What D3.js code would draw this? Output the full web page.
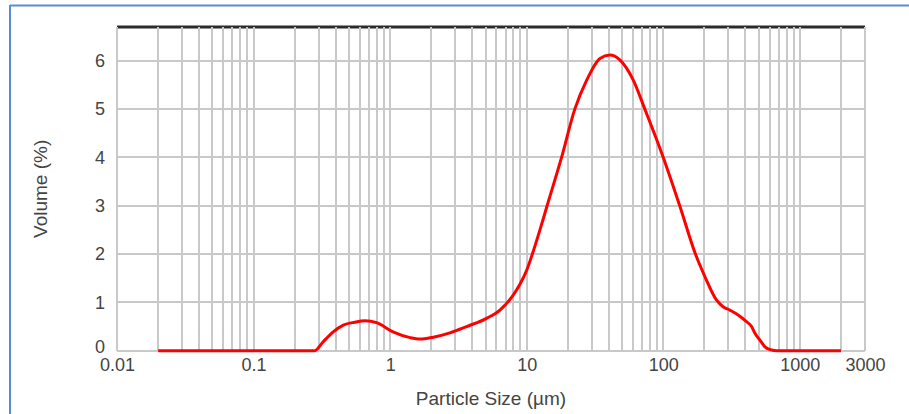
<!doctype html>
<html>
<head>
    <style>
        body { margin: 0; background: #fff; }
        #chart text { font-family: "Liberation Sans", Arial, sans-serif; fill: #444; }
        .grid line { stroke: #c9c9c9; stroke-width: 2; shape-rendering: crispEdges; }
        .axis path { display: none; }
        .axis line { display: none; }
        .curve { fill: none; stroke: #ff0000; stroke-width: 3; stroke-linejoin: round; }
    </style>
</head>
<body>
    <svg id="chart"></svg>
    <script src="https://cdnjs.cloudflare.com/ajax/libs/d3/7.8.5/d3.min.js"></script>
    <script>
        // particle size (um) and volume (%)
        var sizes   = [0.02, 0.05, 0.1, 0.2, 0.28, 0.32, 0.383, 0.454, 0.55, 0.654, 0.796, 1.05, 1.40, 1.65, 2.07, 2.74, 3.63, 5.08, 6.37, 7.96, 8.9, 9.98, 11.0, 12.5, 14.0, 18.0, 22.5, 27.5, 34.4, 40.6, 48.1, 60.3, 73.3, 100, 132, 172, 202, 245, 274, 307, 353, 407, 443, 469, 510, 555, 621, 675, 1000, 2000];
        var volumes = [0,    0,    0,   0,   0,    0.17, 0.39,  0.53,  0.59, 0.62,  0.58,  0.39, 0.27, 0.24, 0.28, 0.37, 0.50, 0.67, 0.84, 1.15, 1.37, 1.66, 2.0,  2.5,  2.97, 4.0,  5.0,  5.60, 6.05, 6.12, 6.02, 5.60, 5.0,  4.0, 3.0, 2.0, 1.53, 1.05, 0.91, 0.84, 0.74, 0.60, 0.50, 0.36, 0.22, 0.08, 0.015, 0, 0, 0];

        var xTickLabels = [0.01, 0.1, 1, 10, 100, 1000, 3000];
        var yTickLabels = [0, 1, 2, 3, 4, 5, 6];
        var xTitle = 'Particle Size (\u00b5m)';
        var yTitle = 'Volume (%)';

        var width = 909, height = 414;
        var svg = d3.select('#chart').attr('width', width).attr('height', height);

        // outer frame (left + top edges only visible)
        svg.append('line').attr('x1', 10).attr('x2', 10).attr('y1', 5).attr('y2', height)
            .attr('stroke', '#5b8bd3').attr('stroke-width', 2);
        svg.append('line').attr('x1', 10).attr('x2', width).attr('y1', 5.5).attr('y2', 5.5)
            .attr('stroke', '#5b8bd3').attr('stroke-width', 2);

        var x = d3.scaleLog().domain([0.01, 3000]).range([117, 865]);
        var y = d3.scaleLinear().domain([0, 6.7]).range([350.7, 27]);

        // top border of the plot area, drawn under the vertical grid
        svg.append('line')
            .attr('x1', x(0.01)).attr('x2', x(3000))
            .attr('y1', y(6.7)).attr('y2', y(6.7))
            .attr('stroke', '#2b2b2b').attr('stroke-width', 3);

        var grid = svg.append('g').attr('class', 'grid');
        grid.selectAll('line.h').data(yTickLabels).enter().append('line')
            .attr('class', 'h')
            .attr('x1', x(0.01)).attr('x2', x(3000))
            .attr('y1', function(d) { return y(d) }).attr('y2', function(d) { return y(d) });
        grid.selectAll('line.v').data(x.ticks()).enter().append('line')
            .attr('class', 'v')
            .attr('x1', function(d) { return x(d) }).attr('x2', function(d) { return x(d) })
            .attr('y1', y(6.7)).attr('y2', y(0));

        // tick labels
        svg.append('g').attr('class', 'axis')
            .attr('transform', 'translate(0,' + y(0) + ')')
            .call(d3.axisBottom(x).tickValues(xTickLabels).tickSize(0).tickPadding(8)
                .tickFormat(function(d) { return String(d) }))
            .selectAll('text').style('font-size', '18px');
        var yAxis = svg.append('g').attr('class', 'axis')
            .attr('transform', 'translate(' + x(0.01) + ',0)')
            .call(d3.axisLeft(y).tickValues(yTickLabels).tickSize(0).tickPadding(12)
                .tickFormat(d3.format('d')));
        yAxis.selectAll('text').style('font-size', '18px');
        // the "0" sits just above "0.01", nudge it so they only touch
        yAxis.selectAll('text').filter(function(d) { return d === 0 }).attr('y', -4);

        // the curve
        var points = sizes.map(function(s, i) { return { size: s, vol: volumes[i] } });
        var line = d3.line()
            .x(function(d) { return x(d.size) })
            .y(function(d) { return y(d.vol) })
            .curve(d3.curveMonotoneX);
        svg.append('path').attr('class', 'curve').attr('d', line(points));

        // titles
        svg.append('text')
            .attr('x', (x(0.01) + x(3000)) / 2).attr('y', 405)
            .attr('text-anchor', 'middle').style('font-size', '19px')
            .text(xTitle);
        svg.append('text')
            .attr('transform', 'translate(47,' + ((y(0) + y(6.7)) / 2) + ') rotate(-90)')
            .attr('text-anchor', 'middle').style('font-size', '19px')
            .text(yTitle);
    </script>
</body>
</html>
